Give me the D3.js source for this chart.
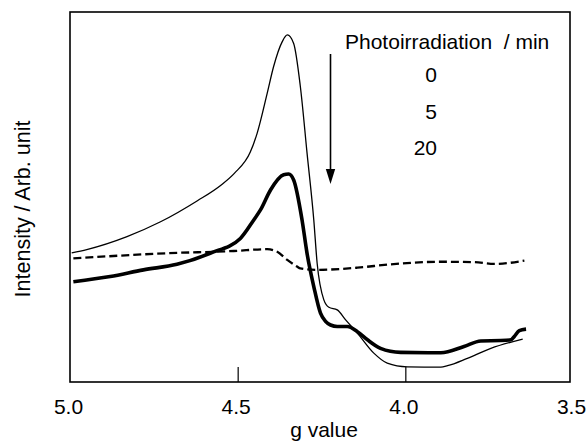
<!DOCTYPE html>
<html>
<head>
<meta charset="utf-8">
<script src="https://cdn.jsdelivr.net/npm/d3@7"></script>
<style>
  html, body { margin: 0; padding: 0; background: #fff; }
  svg { display: block; font-family: "Liberation Sans", Arial, sans-serif; }
</style>
</head>
<body>
<svg id="chart" width="588" height="441"></svg>
<script>
// EPR spectra (g value vs. intensity) at three photoirradiation times
const gTicks = [5.0, 4.5, 4.0, 3.5];
const tickLabels = ["5.0", "4.5", "4.0", "3.5"];
const legendTitle = "Photoirradiation  / min";
const legendTimes = ["0", "5", "20"];

// 0 min (thin line)
const g0 = [4.995, 4.95, 4.83, 4.73, 4.62, 4.55, 4.51, 4.462, 4.442, 4.412, 4.393, 4.367, 4.352, 4.333, 4.313, 4.293, 4.273, 4.263, 4.243, 4.228, 4.203, 4.178, 4.143, 4.094, 4.054, 3.994, 3.894, 3.874, 3.815, 3.745, 3.650];
const i0 = [34.9, 35.8, 39.3, 43.3, 49.0, 53.2, 56.4, 62.2, 67.2, 78.0, 85.2, 92.0, 93.8, 91.5, 79.8, 61.8, 43.8, 32.1, 22.2, 20.2, 19.5, 16.8, 13.2, 7.8, 5.1, 4.1, 4.0, 4.4, 6.4, 9.1, 11.6];

// 5 min (thick line)
const g5 = [4.990, 4.880, 4.781, 4.681, 4.582, 4.492, 4.452, 4.432, 4.402, 4.363, 4.348, 4.333, 4.308, 4.293, 4.273, 4.253, 4.238, 4.223, 4.203, 4.173, 4.143, 4.113, 4.074, 4.014, 3.894, 3.825, 3.775, 3.715, 3.685, 3.675, 3.660, 3.640];
const i5 = [27.1, 28.5, 30.3, 31.8, 34.8, 38.8, 43.8, 46.5, 51.9, 56.0, 56.2, 54.6, 43.8, 34.7, 25.8, 18.6, 16.4, 15.4, 15.0, 15.0, 13.6, 11.4, 9.1, 8.0, 7.9, 9.6, 11.1, 11.2, 11.4, 12.3, 13.9, 14.3];

// 20 min (dashed line)
const g20 = [4.990, 4.711, 4.512, 4.412, 4.382, 4.352, 4.323, 4.313, 4.263, 4.143, 4.044, 3.894, 3.795, 3.735, 3.645];
const i20 = [33.4, 34.8, 35.4, 35.9, 35.2, 33.0, 31.2, 30.7, 30.3, 30.9, 31.8, 32.5, 32.4, 31.9, 32.8];

const svg = d3.select("#chart");
const plotLeft = 70, plotRight = 573, plotTop = 12, plotBottom = 382;

const x = d3.scaleLinear().domain([5.0, 3.5]).range([plotLeft, plotRight]);
const y = d3.scaleLinear().domain([0, 100]).range([plotBottom, plotTop]);

// plot frame
svg.append("rect")
  .attr("x", plotLeft).attr("y", plotTop)
  .attr("width", 500).attr("height", plotBottom - plotTop)
  .attr("fill", "none").attr("stroke", "#000").attr("stroke-width", 1.6);

// bottom axis: inward ticks, labels below
const xAxis = d3.axisBottom(x)
  .tickValues(gTicks)
  .tickFormat((d, i) => tickLabels[i])
  .tickSizeInner(-15).tickSizeOuter(0).tickPadding(17);
const ax = svg.append("g").attr("transform", `translate(0,${plotBottom})`).call(xAxis);
ax.select(".domain").remove();
ax.selectAll(".tick line").attr("stroke", "#000").attr("stroke-width", 1.2)
  .attr("display", d => (d === 5.0 || d === 3.5) ? "none" : null);
ax.selectAll(".tick text")
  .attr("font-size", 21).attr("fill", "#000")
  .attr("font-family", "'Liberation Sans', Arial, sans-serif")
  .attr("dx", -2);

// axis titles
svg.append("text")
  .attr("x", 324).attr("y", 437)
  .attr("text-anchor", "middle").attr("font-size", 21)
  .text("g value");
svg.append("text")
  .attr("transform", "translate(30,209) rotate(-90)")
  .attr("text-anchor", "middle").attr("font-size", 21.5)
  .text("Intensity / Arb. unit");

// spectra
const line = d3.line().x(d => x(d[0])).y(d => y(d[1])).curve(d3.curveMonotoneX);
const series = [
  { g: g0, v: i0, width: 1.3, dash: null },
  { g: g5, v: i5, width: 3.6, dash: null },
  { g: g20, v: i20, width: 2.3, dash: "8,4" }
];
series.forEach(s => {
  svg.append("path")
    .datum(d3.zip(s.g, s.v))
    .attr("d", line)
    .attr("fill", "none")
    .attr("stroke", "#000")
    .attr("stroke-width", s.width)
    .attr("stroke-linejoin", "round")
    .attr("stroke-dasharray", s.dash);
});

// legend text
svg.append("text")
  .attr("x", 345).attr("y", 48.5)
  .attr("font-size", 21)
  .style("white-space", "pre")
  .text(legendTitle);
legendTimes.forEach((t, i) => {
  svg.append("text")
    .attr("x", 437).attr("y", 82 + i * 36.7)
    .attr("text-anchor", "end").attr("font-size", 21)
    .text(t);
});

// arrow indicating increasing irradiation time
svg.append("line")
  .attr("x1", 330.5).attr("y1", 54).attr("x2", 330.5).attr("y2", 172)
  .attr("stroke", "#000").attr("stroke-width", 1.6);
svg.append("path")
  .attr("d", "M325.8,169 L335.2,169 L330.5,184 Z")
  .attr("fill", "#000");
</script>
</body>
</html>
